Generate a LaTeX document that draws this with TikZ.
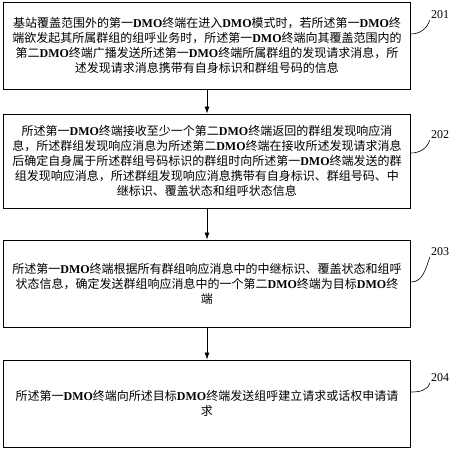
\documentclass[tikz,border=0pt]{standalone}
\usepackage{fontspec}
\setmainfont{Liberation Serif}
\newfontfamily\cjk{Noto Sans CJK SC}
\usetikzlibrary{arrows.meta}
\newcommand{\dmo}{{\rmfamily\bfseries DMO}}

\begin{document}
\begin{tikzpicture}[
  x=1pt, y=-1pt,
  box/.style={draw, line width=0.8pt, minimum width=407pt, text width=400pt, align=center, inner sep=0pt, font=\cjk\fontsize{12}{15}\selectfont},
  num/.style={font=\fontsize{12}{14}\selectfont, inner sep=1pt},
  arr/.style={-{Latex[length=7pt, width=5pt]}, line width=0.7pt},
  lead/.style={line width=0.6pt}
]
\useasboundingbox (0,0) rectangle (451,450);
\node[box, minimum height=87pt] (request) at (207,45.5) {基站覆盖范围外的第一\dmo 终端在进入\dmo 模式时，若所述第一\dmo 终\\端欲发起其所属群组的组呼业务时，所述第一\dmo 终端向其覆盖范围内的\\第二\dmo 终端广播发送所述第一\dmo 终端所属群组的发现请求消息，所\\述发现请求消息携带有自身标识和群组号码的信息};
\node[box, minimum height=94pt] (response) at (207,161) {所述第一\dmo 终端接收至少一个第二\dmo 终端返回的群组发现响应消\\息，所述群组发现响应消息为所述第二\dmo 终端在接收所述发现请求消息\\后确定自身属于所述群组号码标识的群组时向所述第一\dmo 终端发送的群\\组发现响应消息，所述群组发现响应消息携带有自身标识、群组号码、中\\继标识、覆盖状态和组呼状态信息};
\node[box, minimum height=87pt] (select) at (207,283.5) {所述第一\dmo 终端根据所有群组响应消息中的中继标识、覆盖状态和组呼\\状态信息，确定发送群组响应消息中的一个第二\dmo 终端为目标\dmo 终\\端};
\node[box, minimum height=87pt] (call) at (207,403.5) {所述第一\dmo 终端向所述目标\dmo 终端发送组呼建立请求或话权申请请\\求};

\node[num] (n201) at (440,15) {201};
\node[num] (n202) at (440,135) {202};
\node[num] (n203) at (440,252) {203};
\node[num] (n204) at (440,378) {204};

\draw[arr] (request) -- (response);
\draw[arr] (response) -- (select);
\draw[arr] (select) -- (call);

\draw[lead] ([yshift=11.5pt]request.east) to[out=0, in=-110] (n201.south west);
\draw[lead] ([yshift=8pt]response.east) to[out=0, in=-110] (n202.south west);
\draw[lead] ([yshift=1.5pt]select.east) to[out=0, in=-110] (n203.south west);
\draw[lead] ([yshift=11.5pt]call.east) to[out=0, in=-110] (n204.south west);
\end{tikzpicture}
\end{document}
